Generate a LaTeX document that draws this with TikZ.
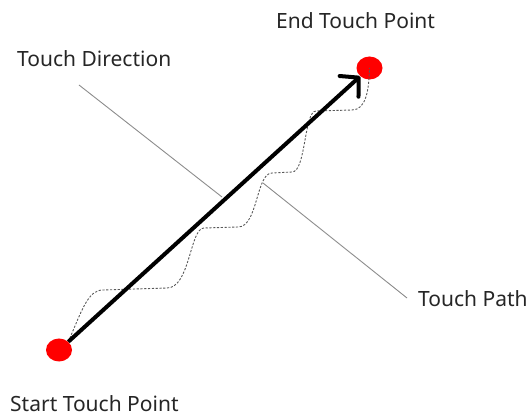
\documentclass[tikz,border=0pt]{standalone}
\usepackage{fontspec}
\setmainfont{Noto Sans}
\usetikzlibrary{arrows.meta,shapes.geometric}

\begin{document}
\begin{tikzpicture}[x=1pt,y=-1pt,
        touchpt/.style={ellipse,fill=red,minimum width=26pt,minimum height=23pt,inner sep=0pt},
        lbl/.style={anchor=base west,inner sep=0pt,font=\fontsize{21}{25}\selectfont,text=black!85},
        leader/.style={draw=black!45,line width=0.9pt},
        pathline/.style={draw=black!65,line width=0.9pt,dash pattern=on 2.2pt off 1.6pt},
        dirarrow/.style={line width=4pt,-{Straight Barb[length=13pt,width=28pt,line join=round,line cap=round]}}]
            \useasboundingbox (0,0) rectangle (531,417);
            \node[lbl] (endlbl) at (276,29) {End Touch Point};
            \node[lbl] (dirlbl) at (17,67) {Touch Direction};
            \node[lbl] (pathlbl) at (418,307) {Touch Path};
            \node[lbl] (startlbl) at (10,411) {Start Touch Point};
            \coordinate (dirfrom) at (79,85);
            \coordinate (dirto) at (222,197);
            \coordinate (pathfrom) at (263,183);
            \coordinate (pathto) at (407,298);
            \draw[leader] (dirfrom) -- (dirto);
            \draw[leader] (pathfrom) -- (pathto);
            \node[touchpt] (start) at (59,350) {};
            \node[touchpt] (end) at (369.5,68) {};
            \draw[pathline] (start.north east) .. controls (82,310) and (88,290) .. (103,290)
                -- (167,288) .. controls (190,288) and (190,228) .. (204,228)
                -- (238,227) .. controls (258,227) and (256,173) .. (272,173)
                -- (292,172) .. controls (306,172) and (304,111) .. (316,111)
                -- (352,110) .. controls (366,110) and (369,90) .. (end.center);
            \draw[dirarrow] (start.north east) -- (end.south west);
        \end{tikzpicture}
\end{document}
